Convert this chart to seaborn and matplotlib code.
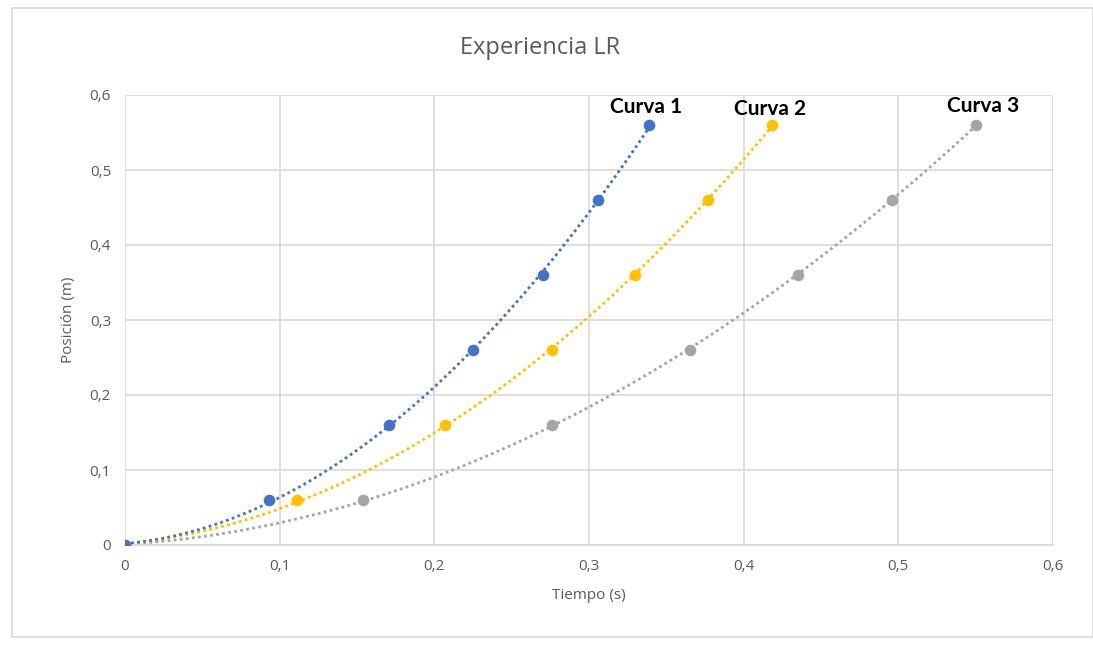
import matplotlib
matplotlib.use("Agg")
import matplotlib.pyplot as plt
import seaborn as sns
import pandas as pd
from matplotlib.patches import Rectangle

# Data
posicion = [0, 0.06, 0.16, 0.26, 0.36, 0.46, 0.56]
tiempo_curva1 = [0, 0.093, 0.171, 0.225, 0.270, 0.306, 0.339]
tiempo_curva2 = [0, 0.111, 0.207, 0.276, 0.330, 0.377, 0.418]
tiempo_curva3 = [0, 0.154, 0.276, 0.365, 0.435, 0.496, 0.550]
series_names = ["Curva 1", "Curva 2", "Curva 3"]
colors = ["#4472C4", "#FFC000", "#A5A5A5"]
ticks = [0, 0.1, 0.2, 0.3, 0.4, 0.5, 0.6]
tick_labels = ["0", "0,1", "0,2", "0,3", "0,4", "0,5", "0,6"]

# label placement (style)
label_dx = [-0.002, -0.001, 0.005]
label_y = [0.576, 0.573, 0.577]

sns.set_theme(style="white")
plt.rcParams['font.family'] = ['Open Sans', 'DejaVu Sans']

fig = plt.figure(figsize=(10.93, 6.47), dpi=100)
fig.patches.append(Rectangle((12 / 1093, 1 - 637 / 647), 1 - 12 / 1093, (637 - 8) / 647,
                             transform=fig.transFigure, fill=False,
                             edgecolor="#D9D9D9", linewidth=1.2))
ax = fig.add_axes([125 / 1093, 1 - 545 / 647, (1053 - 125) / 1093, (545 - 95) / 647])

times = [tiempo_curva1, tiempo_curva2, tiempo_curva3]
order_draw = [2, 1, 0]
for i in order_draw:
    df = pd.DataFrame({"t": times[i], "y": posicion})
    sns.regplot(data=df, x="t", y="y", order=2, ci=None, scatter=False, ax=ax,
                color=colors[i], line_kws=dict(linestyle=(0, (1, 1.2)), linewidth=2.0))
    sns.scatterplot(data=df, x="t", y="y", ax=ax, color=colors[i], s=70,
                    edgecolor=colors[i], linewidth=0, zorder=5)
    ax.text(times[i][-1] + label_dx[i], label_y[i], series_names[i], ha="center",
            va="baseline", fontsize=15, fontweight="bold", color="black",
            family=["Lato", "DejaVu Sans"])

ax.set_xlim(0, 0.6)
ax.set_ylim(0, 0.6)
ax.set_xticks(ticks)
ax.set_xticklabels(tick_labels)
ax.set_yticks(ticks)
ax.set_yticklabels(tick_labels)
ax.grid(True, color="#D9D9D9", linewidth=1.2)
ax.set_axisbelow(True)
for s in ["top", "right", "left"]:
    ax.spines[s].set_visible(False)
ax.spines["bottom"].set_color("#D9D9D9")
ax.spines["bottom"].set_linewidth(1.2)
ax.tick_params(axis="both", length=0, labelsize=11, labelcolor="#595959", pad=10)
ax.set_xlabel("Tiempo (s)", fontsize=11, color="#595959", labelpad=10)
ax.set_ylabel("Posición (m)", fontsize=11, color="#595959", labelpad=10)
fig.text(540 / 1093, 1 - 48 / 647, "Experiencia LR", ha="center", va="center",
         fontsize=17, color="#595959")

fig.savefig("out.png", dpi=100)
